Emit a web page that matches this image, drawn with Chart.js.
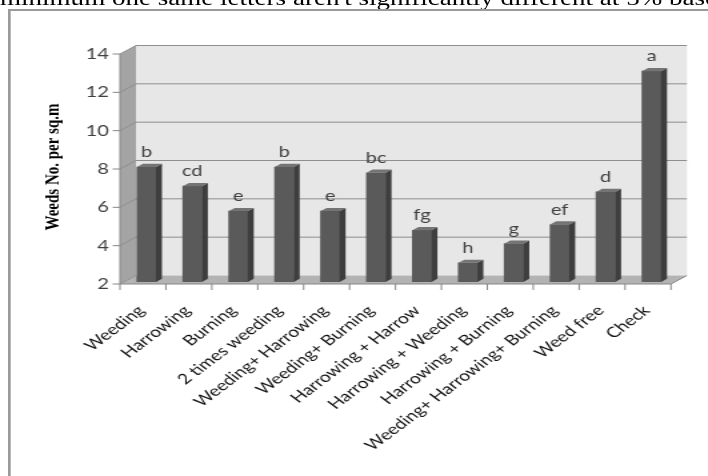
<!DOCTYPE html>
<html>
<head>
<meta charset="utf-8">
<script src="https://cdn.jsdelivr.net/npm/chart.js@4.4.1/dist/chart.umd.min.js"></script>
<style>
  html, body { margin: 0; padding: 0; background: #fff; overflow: hidden; }
  body { width: 708px; height: 476px; position: relative; }
  /* the whole figure is laid out narrow and widened horizontally */
  #sheet { position: absolute; left: 0; top: 0; width: 531px; height: 476px;
           transform: scaleX(1.33333); transform-origin: 0 0; }
  #note { position: absolute; left: 0; top: -12px; white-space: nowrap;
          font: 20.3px/20px "Liberation Serif", "Times New Roman", serif; color: #000; }
  #box { position: absolute; left: 6px; top: 9px; width: 600px; height: 600px;
         border-top: 2px solid #9a9a9a; border-left: 2px solid #9a9a9a; }
  canvas { position: absolute; left: 0; top: 0; }
</style>
</head>
<body>
<div id="sheet">
  <div id="note">minimum one same letters aren't significantly different at 5% base</div>
  <div id="box"></div>
  <canvas id="c" width="531" height="476"></canvas>
</div>
<script>
// Treatments and weed counts per square metre
const categories = [
  'Weeding', 'Harrowing', 'Burning', '2 times weeding', 'Weeding+ Harrowing',
  'Weeding+ Burning', 'Harrowing + Harrow', 'Harrowing + Weeding',
  'Harrowing + Burning', 'Weeding+ Harrowing+ Burning', 'Weed free', 'Check'
];
const weeds = [8, 7, 5.7, 8, 5.7, 7.7, 4.7, 3, 4, 5, 6.7, 13];
const letters = ['b', 'cd', 'e', 'b', 'e', 'bc', 'fg', 'h', 'g', 'ef', 'd', 'a'];
const yTickValues = [2, 4, 6, 8, 10, 12, 14];

// 3D look: bars stand a little inside the box, walls sit further back
const SHIFT_X = 2.625, SHIFT_Y = 2;   // front of bars vs front of floor
const WALL_DX = 12, WALL_DY = 8.5;    // back wall depth offset
const BAR_DX = 4.5, BAR_DY = 3.2;     // bar depth offset

const FONT = 'Lato, "Open Sans", sans-serif';

const frame3d = {
  id: 'frame3d',
  beforeDatasetsDraw(chart) {
    const { ctx, chartArea: a, scales: { x, y } } = chart;
    const fl = a.left - SHIFT_X, fr = a.right - SHIFT_X;
    const Y = v => y.getPixelForValue(v) + SHIFT_Y;
    const top = Y(yTickValues[yTickValues.length - 1]);
    const bot = Y(yTickValues[0]);
    ctx.save();
    // back wall
    ctx.fillStyle = '#e7e7e7';
    ctx.fillRect(fl + WALL_DX, top - WALL_DY, fr - fl, bot - top);
    // side wall
    ctx.fillStyle = '#a4a4a4';
    ctx.beginPath();
    ctx.moveTo(fl, top); ctx.lineTo(fl + WALL_DX, top - WALL_DY);
    ctx.lineTo(fl + WALL_DX, bot - WALL_DY); ctx.lineTo(fl, bot);
    ctx.closePath(); ctx.fill();
    // floor
    ctx.fillStyle = '#b3b3b3';
    ctx.beginPath();
    ctx.moveTo(fl, bot); ctx.lineTo(fl + WALL_DX, bot - WALL_DY);
    ctx.lineTo(fr + WALL_DX, bot - WALL_DY); ctx.lineTo(fr, bot);
    ctx.closePath(); ctx.fill();
    // grid lines on the back and side walls
    ctx.strokeStyle = '#8e8e8e';
    ctx.lineWidth = 1;
    yTickValues.forEach(v => {
      const py = Y(v);
      ctx.beginPath();
      ctx.moveTo(fl, py); ctx.lineTo(fl + WALL_DX, py - WALL_DY);
      if (v !== yTickValues[0]) ctx.lineTo(fr + WALL_DX, py - WALL_DY);
      ctx.stroke();
    });
    // value axis with tick marks
    ctx.strokeStyle = '#868686';
    ctx.beginPath();
    ctx.moveTo(fl, top); ctx.lineTo(fl, bot);
    yTickValues.forEach(v => { ctx.moveTo(fl - 5.5, Y(v)); ctx.lineTo(fl, Y(v)); });
    // category axis along the front of the floor
    ctx.moveTo(fl, bot); ctx.lineTo(fr, bot); ctx.lineTo(fr + WALL_DX, bot - WALL_DY);
    const step = (fr - fl) / categories.length;
    for (let i = 0; i <= categories.length; i++) {
      ctx.moveTo(fl + i * step, bot); ctx.lineTo(fl + i * step, bot + 6);
    }
    ctx.stroke();
    ctx.restore();
  },
  afterDatasetsDraw(chart) {
    const { ctx } = chart;
    const meta = chart.getDatasetMeta(0);
    ctx.save();
    meta.data.forEach((bar, i) => {
      const { x, y, base, width } = bar.getProps(['x', 'y', 'base', 'width'], true);
      const l = x - width / 2, r = x + width / 2;
      // right side face
      ctx.fillStyle = '#3e3e3e';
      ctx.beginPath();
      ctx.moveTo(r, y); ctx.lineTo(r + BAR_DX, y - BAR_DY);
      ctx.lineTo(r + BAR_DX, base - BAR_DY); ctx.lineTo(r, base);
      ctx.closePath(); ctx.fill();
      // top face
      ctx.fillStyle = '#747474';
      ctx.beginPath();
      ctx.moveTo(l, y); ctx.lineTo(l + BAR_DX, y - BAR_DY);
      ctx.lineTo(r + BAR_DX, y - BAR_DY); ctx.lineTo(r, y);
      ctx.closePath(); ctx.fill();
      // significance letter
      ctx.fillStyle = '#404040';
      ctx.font = '15px ' + FONT;
      ctx.textAlign = 'center';
      ctx.textBaseline = 'alphabetic';
      ctx.fillText(letters[i], x, y - 10);
    });
    ctx.restore();
  }
};

new Chart(document.getElementById('c'), {
  type: 'bar',
  data: {
    labels: categories,
    datasets: [{
      data: weeds,
      base: yTickValues[0],
      backgroundColor: '#5a5a5a',
      borderWidth: 0,
      barThickness: 14.25
    }]
  },
  options: {
    responsive: false,
    animation: false,
    layout: { padding: { left: 20, right: 25.125, top: 52, bottom: 0 } },
    plugins: { legend: { display: false }, tooltip: { enabled: false } },
    scales: {
      x: {
        grid: { display: false, drawTicks: false },
        border: { display: false },
        ticks: {
          autoSkip: false, minRotation: 45, maxRotation: 45,
          padding: 20, labelOffset: -3.7,
          color: '#111', font: { family: FONT, size: 14.5 }
        },
        afterFit(s) { s.height = 194; }
      },
      y: {
        min: 2, max: 14,
        beginAtZero: false,
        grid: { display: false, drawTicks: false },
        border: { display: false },
        afterBuildTicks(s) { s.ticks = yTickValues.map(v => ({ value: v })); },
        ticks: {
          padding: 10.9, labelOffset: SHIFT_Y,
          color: '#404040', font: { family: FONT, size: 15 }
        },
        title: {
          display: true, text: 'Weeds No. per sq.m', color: '#000',
          font: { family: '"Liberation Serif", "Times New Roman", serif', size: 15, weight: 'bold' },
          padding: { top: 11.5, bottom: 0 }
        },
        afterFit(s) { s.width = 72.625; }
      }
    }
  },
  plugins: [frame3d]
});
</script>
</body>
</html>
